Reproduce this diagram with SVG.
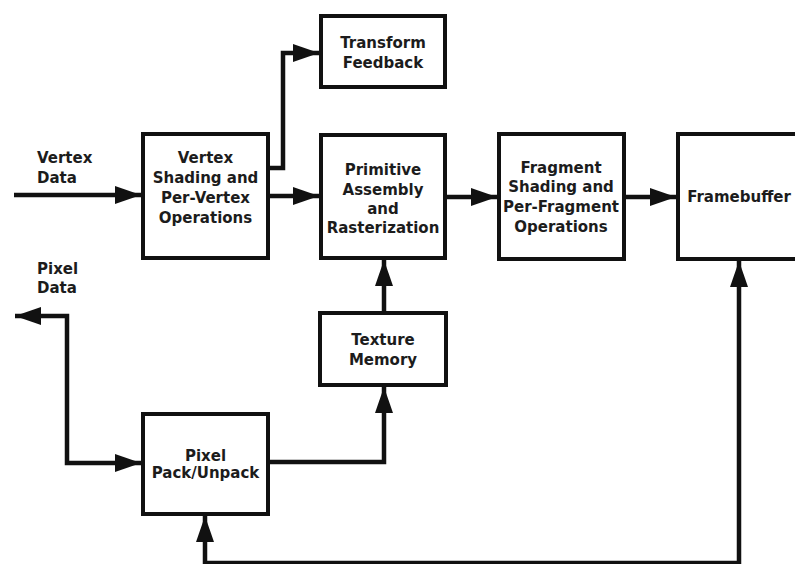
<svg xmlns="http://www.w3.org/2000/svg" width="795" height="564" viewBox="0 0 795 564">
<style>
.box{fill:#fff;stroke:#111;stroke-width:4}
.lbl{font-family:"DejaVu Sans","Liberation Sans",sans-serif;font-weight:bold;font-size:15px;fill:#1c1c1c;text-anchor:middle}
.lft{text-anchor:start}
.con{fill:none;stroke:#111;stroke-width:4.5;stroke-linejoin:miter}
</style>
<defs>
<marker id="ah" markerUnits="userSpaceOnUse" markerWidth="26" markerHeight="18" refX="26" refY="9" orient="auto-start-reverse" viewBox="0 0 26 18">
<path d="M0,0 L26,9 L0,18 z" fill="#111"/>
</marker>
</defs>
<rect width="795" height="564" fill="#fff"/>
<g id="connectors">
<path class="con" d="M14,195 H141" marker-end="url(#ah)"/>
<path class="con" d="M268,196 H319" marker-end="url(#ah)"/>
<path class="con" d="M268,168 H283 V53 H319" marker-end="url(#ah)"/>
<path class="con" d="M446,197 H497" marker-end="url(#ah)"/>
<path class="con" d="M626,197 H676" marker-end="url(#ah)"/>
<path class="con" d="M384,311 V260" marker-end="url(#ah)"/>
<path class="con" d="M269,462 H384 V387" marker-end="url(#ah)"/>
<path class="con" d="M15,316 H67 V463 H141" marker-start="url(#ah)" marker-end="url(#ah)"/>
<path class="con" d="M205,516 V563 H739 V261" marker-start="url(#ah)" marker-end="url(#ah)"/>
</g>
<g id="transform-feedback">
<rect class="box" x="321" y="16" width="124" height="71"/>
<text class="lbl" x="383" y="48">Transform</text>
<text class="lbl" x="383" y="68">Feedback</text>
</g>
<g id="vertex-shading">
<rect class="box" x="143" y="134" width="125" height="124"/>
<text class="lbl" x="205.5" y="163">Vertex</text>
<text class="lbl" x="205.5" y="183">Shading and</text>
<text class="lbl" x="205.5" y="203">Per-Vertex</text>
<text class="lbl" x="205.5" y="223">Operations</text>
</g>
<g id="primitive-assembly">
<rect class="box" x="321" y="135" width="124" height="123"/>
<text class="lbl" x="383" y="175">Primitive</text>
<text class="lbl" x="383" y="195">Assembly</text>
<text class="lbl" x="383" y="214">and</text>
<text class="lbl" x="383" y="233">Rasterization</text>
</g>
<g id="fragment-shading">
<rect class="box" x="499" y="134" width="125" height="125"/>
<text class="lbl" x="561" y="173">Fragment</text>
<text class="lbl" x="561" y="192">Shading and</text>
<text class="lbl" x="561" y="212">Per-Fragment</text>
<text class="lbl" x="561" y="232">Operations</text>
</g>
<g id="framebuffer">
<rect class="box" x="678" y="134" width="130" height="125"/>
<text class="lbl" x="739" y="202">Framebuffer</text>
</g>
<g id="texture-memory">
<rect class="box" x="320" y="313" width="126" height="72"/>
<text class="lbl" x="383" y="345">Texture</text>
<text class="lbl" x="383" y="365">Memory</text>
</g>
<g id="pixel-pack">
<rect class="box" x="143" y="414" width="125" height="100"/>
<text class="lbl" x="205.5" y="461">Pixel</text>
<text class="lbl" x="205.5" y="478">Pack/Unpack</text>
</g>
<g id="vertex-data">
<text class="lbl lft" x="37" y="163">Vertex</text>
<text class="lbl lft" x="37" y="183">Data</text>
</g>
<g id="pixel-data">
<text class="lbl lft" x="37" y="274">Pixel</text>
<text class="lbl lft" x="37" y="293">Data</text>
</g>
</svg>
